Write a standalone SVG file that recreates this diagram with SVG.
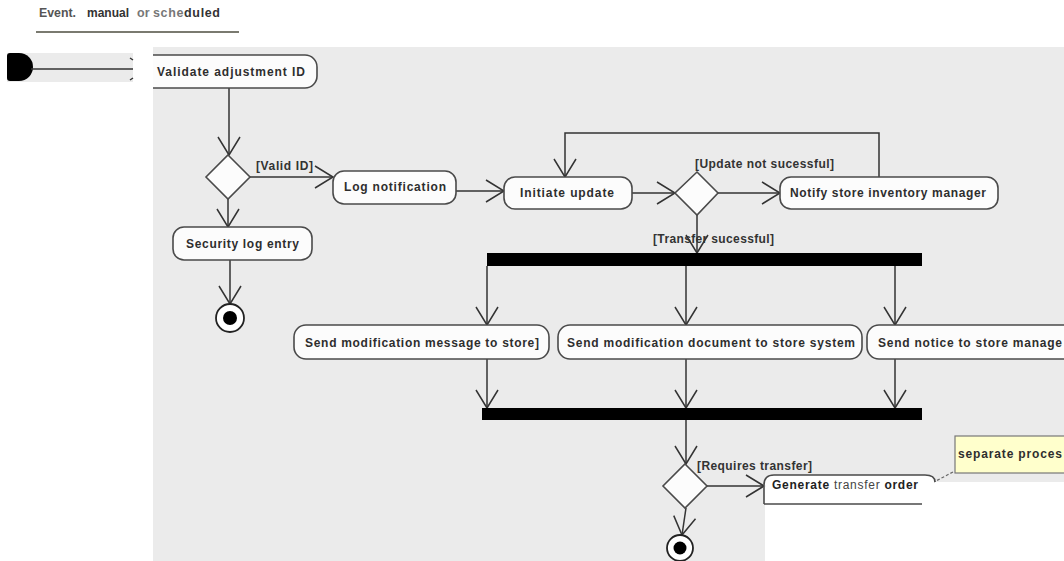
<svg xmlns="http://www.w3.org/2000/svg" width="1064" height="561" viewBox="0 0 1064 561">
<defs>
<style>
.bg{fill:#ebebeb}
.act{fill:#fcfcfc;stroke:#4a4a4a;stroke-width:1.6}
.dec{fill:#fcfcfc;stroke:#4a4a4a;stroke-width:1.6}
.lbl{font-family:"Liberation Sans",Arial,sans-serif;font-size:12px;font-weight:bold;fill:#2e2e2e}
.guard{font-family:"Liberation Sans",Arial,sans-serif;font-size:12px;font-weight:bold;fill:#333}
.head{font-family:"Liberation Sans",Arial,sans-serif;font-size:12.5px;font-weight:bold}
.edge{fill:none;stroke:#333;stroke-width:1.5;marker-end:url(#arr)}
.line{fill:none;stroke:#333;stroke-width:1.5}
.bar{fill:#000}
</style>
<marker id="arr" markerUnits="userSpaceOnUse" markerWidth="24" markerHeight="24" refX="20" refY="12" orient="auto" viewBox="0 0 24 24"><path d="M2,1 L20,12 L2,23" fill="none" stroke="#333" stroke-width="1.5"/></marker>
<clipPath id="clipBg"><rect x="153" y="47" width="911" height="514"/></clipPath>
</defs>

<rect x="0" y="0" width="1064" height="561" fill="#ffffff"/>
<rect class="bg" x="153" y="47" width="911" height="514"/>
<rect x="765" y="482" width="299" height="79" fill="#ffffff"/>

<g id="heading">
<text class="head" x="39" y="17" fill="#555" textLength="37" lengthAdjust="spacingAndGlyphs">Event.</text>
<text class="head" x="87" y="17" fill="#333" textLength="42" lengthAdjust="spacingAndGlyphs">manual</text>
<text class="head" x="137" y="17" fill="#777">or</text>
<text class="head" x="153" y="17" textLength="67" lengthAdjust="spacing"><tspan fill="#777">sche</tspan><tspan fill="#333">duled</tspan></text>
<rect x="36" y="31" width="203" height="2" fill="#7a7a70"/>
</g>

<g id="start-fragment">
<rect class="bg" x="7" y="53" width="126" height="29"/>
<path d="M7,56 Q7,53 10,53 L19,53 A14,14 0 0 1 19,81 L10,81 Q7,81 7,78 Z" fill="#000"/>
<path class="line" d="M31,69 H133"/>
<path class="line" d="M130,58 L133,60 M130,80 L133,78" stroke-width="1"/>
</g>

<g id="connectors">
<path class="edge" d="M229,88 V155"/>
<path class="edge" d="M250,177 H333"/>
<path class="edge" d="M228,199 V227"/>
<path class="edge" d="M230,260 V304"/>
<path class="edge" d="M456,191 H504"/>
<path class="edge" d="M632,193 H675"/>
<path class="edge" d="M718,193 H780"/>
<path class="edge" d="M879,177 V133 H565 V177"/>
<path class="edge" d="M697,215 V253"/>
<path class="edge" d="M487,266 V325"/>
<path class="edge" d="M686,266 V325"/>
<path class="edge" d="M895,266 V325"/>
<path class="edge" d="M487,359 V408"/>
<path class="edge" d="M686,359 V408"/>
<path class="edge" d="M895,359 V408"/>
<path class="edge" d="M686,420 V464"/>
<path class="edge" d="M707,486 H764"/>
<path class="edge" d="M686,508 L682,535"/>
<path d="M953,472 L934,482" fill="none" stroke="#666" stroke-width="1.2" stroke-dasharray="3,2"/>
</g>

<g id="validate">
<g clip-path="url(#clipBg)"><rect class="act" x="140" y="55" width="177" height="33" rx="12"/></g>
<text class="lbl" x="157" y="76" textLength="148" lengthAdjust="spacing">Validate adjustment ID</text>
</g>

<g id="decision1">
<polygon class="dec" points="228,155 250,177 228,199 206,177"/>
<text class="guard" x="256" y="170" textLength="57" lengthAdjust="spacing">[Valid ID]</text>
</g>

<g id="log-notification">
<rect class="act" x="333" y="171" width="123" height="33" rx="11"/>
<text class="lbl" x="344" y="191" textLength="102" lengthAdjust="spacing">Log notification</text>
</g>

<g id="security-log">
<rect class="act" x="173" y="227" width="139" height="33" rx="11"/>
<text class="lbl" x="186" y="248" textLength="113" lengthAdjust="spacing">Security log entry</text>
</g>

<g id="final1">
<circle cx="230" cy="318" r="14" fill="#fff" stroke="#222" stroke-width="1.8"/>
<circle cx="230" cy="318" r="7" fill="#000"/>
</g>

<g id="initiate-update">
<rect class="act" x="504" y="177" width="128" height="32" rx="11"/>
<text class="lbl" x="520" y="197" textLength="94" lengthAdjust="spacing">Initiate update</text>
</g>

<g id="decision2">
<polygon class="dec" points="697,172 718,193 697,215 675,193"/>
<text class="guard" x="695" y="168" textLength="139" lengthAdjust="spacing">[Update not sucessful]</text>
<text class="guard" x="653" y="243" textLength="121" lengthAdjust="spacing">[Transfer sucessful]</text>
</g>

<g id="notify-manager">
<rect class="act" x="780" y="177" width="218" height="32" rx="11"/>
<text class="lbl" x="790" y="197" textLength="196" lengthAdjust="spacing">Notify store inventory manager</text>
</g>

<g id="fork">
<rect class="bar" x="487" y="253" width="435" height="13"/>
</g>

<g id="send-message">
<rect class="act" x="294" y="325" width="255" height="34" rx="12"/>
<text class="lbl" x="305" y="347" textLength="234" lengthAdjust="spacing">Send modification message to store]</text>
</g>

<g id="send-document">
<rect class="act" x="558" y="325" width="304" height="34" rx="12"/>
<text class="lbl" x="567" y="347" textLength="288" lengthAdjust="spacing">Send modification document to store system</text>
</g>

<g id="send-notice">
<rect class="act" x="867" y="325" width="220" height="34" rx="12"/>
<text class="lbl" x="878" y="347" textLength="184" lengthAdjust="spacing">Send notice to store manage</text>
</g>

<g id="join">
<rect class="bar" x="482" y="408" width="440" height="12"/>
</g>

<g id="decision3">
<polygon class="dec" points="685,464 707,486 685,508 663,486"/>
<text class="guard" x="697" y="470" textLength="115" lengthAdjust="spacing">[Requires transfer]</text>
</g>

<g id="generate-order">
<path d="M764,504 V485 Q764,475 774,475 H925 Q935,475 935,482 H765 V504 Z" fill="#fff"/>
<path d="M764,504 V485 Q764,475 774,475 H925 Q935,475 935,482" fill="none" stroke="#4a4a4a" stroke-width="1.6"/>
<path d="M764,504 H922" fill="none" stroke="#4a4a4a" stroke-width="1.6"/>
<text class="lbl" x="772" y="489" textLength="146" lengthAdjust="spacing"><tspan fill="#222">Generate</tspan><tspan font-weight="normal" fill="#444"> transfer </tspan><tspan fill="#222">order</tspan></text>
</g>

<g id="final2">
<circle cx="680" cy="548" r="13" fill="#fff" stroke="#222" stroke-width="1.8"/>
<circle cx="680" cy="548" r="6.5" fill="#000"/>
</g>

<g id="note">
<rect x="955" y="436" width="120" height="37" fill="#ffffcc" stroke="#777" stroke-width="1.2"/>
<text class="lbl" x="958" y="458" textLength="104" lengthAdjust="spacing" fill="#333">separate proces</text>
</g>
</svg>
